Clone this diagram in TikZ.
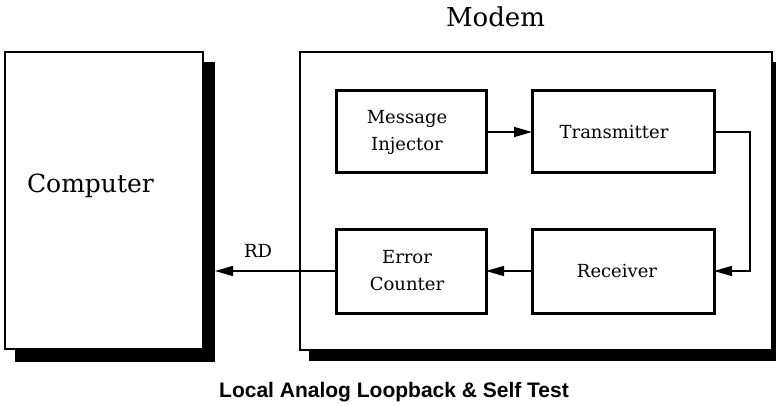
\documentclass[tikz,border=0pt]{standalone}
\usepackage{fontspec}
\setmainfont{DejaVu Serif}
\newfontfamily\capfont{Liberation Sans}
\usetikzlibrary{arrows.meta}
\begin{document}
\begin{tikzpicture}[x=1pt,y=-1pt,
  shadowbox/.style={fill=black,draw=none,inner sep=0pt,outer sep=0pt,anchor=north west},
  outerbox/.style={draw=black,fill=white,line width=1.3pt,inner sep=0pt,outer sep=0pt,anchor=north west},
  blockbox/.style={draw=black,fill=white,line width=3pt,inner sep=0pt,outer sep=0pt},
  blocktext/.style={align=center,inner sep=0pt,font=\fontsize{18}{27}\selectfont},
  conn/.style={line width=1.5pt,-{Triangle[length=18pt,width=10pt]}},
  bigtext/.style={font=\fontsize{25}{30}\selectfont,anchor=base,inner sep=0pt},
  smalltext/.style={font=\fontsize{18}{22}\selectfont,anchor=base,inner sep=0pt}]
\useasboundingbox (0,0) rectangle (776,406);
% Computer
\node[shadowbox,minimum width=200pt,minimum height=300pt] (compshadow) at (15,62) {};
\node[outerbox,minimum width=198pt,minimum height=297pt] (computer) at (5,52) {};
\node[bigtext] (comptext) at (90.5,193) {Computer};
% Modem
\begin{scope}
\clip (0,0) rectangle (776,406);
\node[shadowbox,minimum width=474pt,minimum height=299pt] (modemshadow) at (309,62) {};
\end{scope}
\node[outerbox,minimum width=472pt,minimum height=298pt] (modem) at (300,52) {};
\node[font=\fontsize{26}{30}\selectfont,anchor=base,inner sep=0pt] (modemtext) at (495.5,27) {Modem};
% blocks
\node[blockbox,minimum width=150pt,minimum height=82pt] (msg) at (411,132) {};
\node[blockbox,minimum width=182pt,minimum height=82pt] (tx) at (623,132) {};
\node[blockbox,minimum width=150pt,minimum height=84pt] (ec) at (411,271) {};
\node[blockbox,minimum width=182pt,minimum height=84pt] (rx) at (623,271) {};
\node[blocktext] (msgtext) at ([xshift=-4pt]msg.center) {Message\\Injector};
\node[blocktext] (txtext) at ([xshift=-9pt]tx.center) {Transmitter};
\node[blocktext] (ectext) at ([xshift=-4pt]ec.center) {Error\\Counter};
\node[blocktext] (rxtext) at ([xshift=-6pt]rx.center) {Receiver};
\coordinate (turn1) at (750,132);
\coordinate (turn2) at (750,271);
% connectors
\draw[conn] (msg.east) -- (tx.west);
\draw[conn] (tx.east) -- (turn1) -- (turn2) -- (rx.east);
\draw[conn] (rx.west) -- (ec.west -| ec.east);
\draw[conn] (ec.west) -- (ec.west -| compshadow.east);
\node[smalltext] (rd) at (258,257) {RD};
% caption
\node[font=\capfont\bfseries\fontsize{21}{24}\selectfont,anchor=base,inner sep=0pt] (caption) at (394,397) {Local Analog Loopback \& Self Test};
\end{tikzpicture}
\end{document}
